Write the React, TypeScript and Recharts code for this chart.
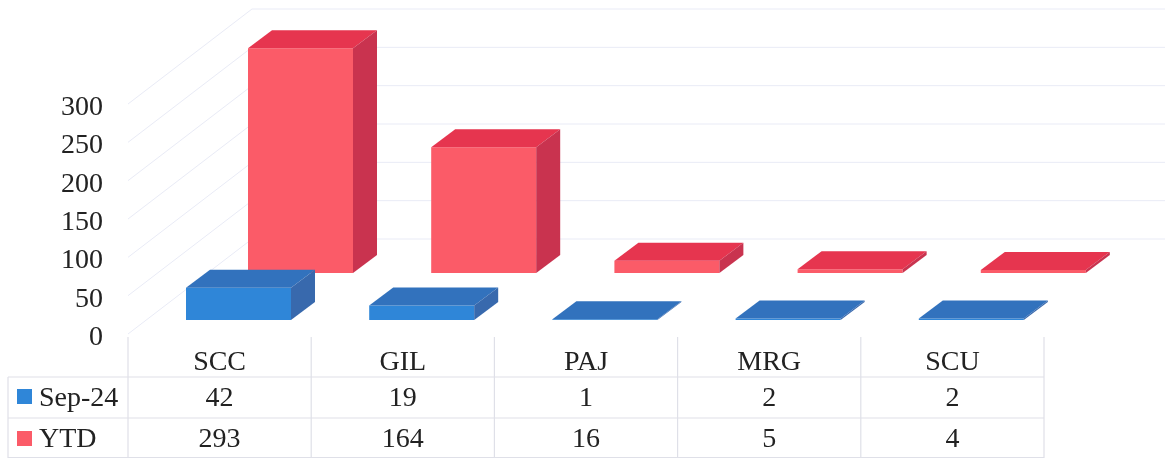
import { BarChart, Bar, XAxis, YAxis, ReferenceLine } from "recharts";

const categories = ["SCC", "GIL", "PAJ", "MRG", "SCU"];
const sep24 = [42, 19, 1, 2, 2];
const ytd = [293, 164, 16, 5, 4];
const yTicks = [0, 50, 100, 150, 200, 250, 300];

const rows = categories.map((name, i) => ({ name, sep24: sep24[i], ytd: ytd[i] }));

const FONT = '"Liberation Serif", "Times New Roman", serif';
const TEXT = "#222222";
const LINE = "#dfe0e8";
const GRID = "#e9ebf6";

const BLUE = { front: "#2f86d8", top: "#3272bd", side: "#3869ad" };
const RED = { front: "#fb5b68", top: "#e6354f", side: "#c9334f" };

// depth of the fake 3d box
const DX = 24;
const DY = -18;

// the box is drawn from the rect that Bar hands over, moved to its row on the floor
function box3d(colors: typeof BLUE, shiftX: number, shiftY: number) {
  return function Box(props: any) {
    const l = props.x + shiftX;
    const t = props.y + shiftY;
    const r = l + props.width;
    const b = t + props.height;
    return (
      <g>
        <polygon points={`${l},${t} ${r},${t} ${r},${b} ${l},${b}`} fill={colors.front} />
        <polygon
          points={`${l},${t} ${l + DX},${t + DY} ${r + DX},${t + DY} ${r},${t}`}
          fill={colors.top}
        />
        <polygon
          points={`${r},${t} ${r + DX},${t + DY} ${r + DX},${b + DY} ${r},${b}`}
          fill={colors.side}
        />
      </g>
    );
  };
}

// side wall going back and then the line along the back wall
function WallLine(props: any) {
  const { x1, y1 } = props;
  const bx = x1 + 124;
  const by = y1 - 95;
  return (
    <polyline
      points={`${x1},${y1} ${bx},${by} 1165,${by}`}
      fill="none"
      stroke={GRID}
      strokeWidth={1}
    />
  );
}

// one column of the data table hangs under each category
function TableTick(props: any) {
  const { x, index, payload } = props;
  const half = 91.6;
  return (
    <g fontFamily={FONT} fontSize={28} fill={TEXT} textAnchor="middle">
      <line x1={x + half} y1={337} x2={x + half} y2={458} stroke={LINE} strokeWidth={1.2} />
      <text x={x} y={370}>{payload.value}</text>
      <text x={x} y={406}>{sep24[index]}</text>
      <text x={x} y={447}>{ytd[index]}</text>
    </g>
  );
}

function YTick(props: any) {
  return (
    <text x={103} y={props.y + 11} textAnchor="end" fontFamily={FONT} fontSize={28} fill={TEXT}>
      {props.payload.value}
    </text>
  );
}

export default function App() {
  return (
    <div
      style={{
        position: "absolute",
        left: 0,
        top: 0,
        width: 1165,
        height: 458,
        background: "#fff",
        overflow: "hidden",
        filter: "blur(0.45px)",
      }}
    >
      <svg width={1165} height={458} style={{ position: "absolute", left: 0, top: 0 }}>
        <line x1={8} y1={377} x2={1044} y2={377} stroke={LINE} strokeWidth={1.2} />
        <line x1={8} y1={418} x2={1044} y2={418} stroke={LINE} strokeWidth={1.2} />
        <line x1={8} y1={457.5} x2={1044} y2={457.5} stroke={LINE} strokeWidth={1.2} />
        <line x1={8} y1={377} x2={8} y2={458} stroke={LINE} strokeWidth={1.2} />
        <line x1={128} y1={337} x2={128} y2={458} stroke={LINE} strokeWidth={1.2} />
        <rect x={17} y={389} width={15} height={15} fill={BLUE.front} />
        <rect x={17} y={431} width={15} height={15} fill={RED.front} />
        <text x={39} y={406} fontFamily={FONT} fontSize={28} fill={TEXT}>Sep-24</text>
        <text x={39} y={447} fontFamily={FONT} fontSize={28} fill={TEXT}>YTD</text>
      </svg>
      <div style={{ position: "absolute", left: 0, top: 0 }}>
        <BarChart
          width={1165}
          height={458}
          data={rows}
          barSize={105}
          barGap={-105}
          margin={{ top: 104, right: 121, bottom: 0, left: 0 }}
        >
          {yTicks.map((v) => (
            <ReferenceLine key={v} y={v} shape={WallLine} zIndex={0} />
          ))}
          <XAxis
            dataKey="name"
            height={124}
            axisLine={false}
            tickLine={false}
            interval={0}
            tick={TableTick}
          />
          <YAxis
            width={128}
            domain={[0, 300]}
            ticks={yTicks}
            axisLine={false}
            tickLine={false}
            tick={YTick}
          />
          <Bar dataKey="ytd" isAnimationActive={false} shape={box3d(RED, 81, -61)} />
          <Bar dataKey="sep24" isAnimationActive={false} shape={box3d(BLUE, 19, -14)} />
        </BarChart>
      </div>
    </div>
  );
}
